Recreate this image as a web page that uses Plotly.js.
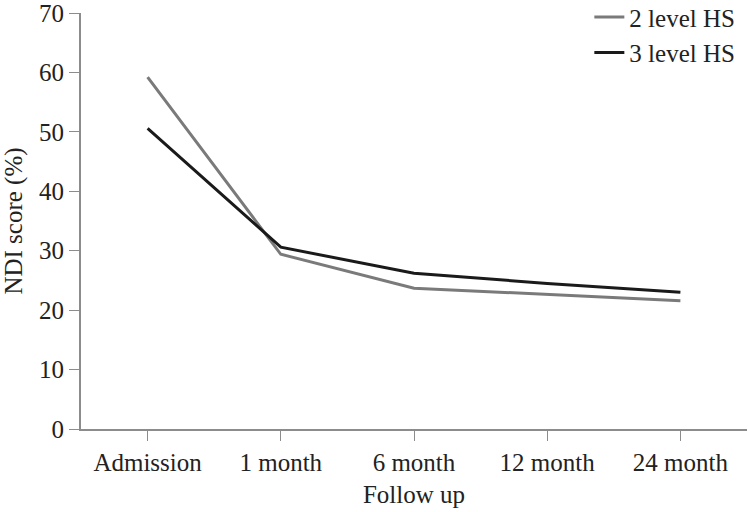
<!DOCTYPE html>
<html>
<head>
<meta charset="utf-8">
<script src="https://cdn.plot.ly/plotly-3.0.1.min.js"></script>
<style>
  html, body { margin: 0; padding: 0; background: #fff; }
  #chart { width: 748px; height: 512px; }
</style>
</head>
<body>
<div id="chart"></div>
<script>
// Follow-up time points
const followUp = ['Admission', '1 month', '6 month', '12 month', '24 month'];

// NDI score (%) per group
const level2HS = [59.2, 29.4, 23.7, 22.7, 21.6];
const level3HS = [50.6, 30.6, 26.2, 24.5, 23.0];

const yTicks = [0, 10, 20, 30, 40, 50, 60, 70];

const serif = "'Liberation Serif', 'DejaVu Serif', serif";
const axisGray = '#8c8c8c';
const textColor = '#222';
const fontSize = 25;

const traces = [
    {
        x: followUp,
        y: level2HS,
        name: '2 level HS',
        type: 'scatter',
        mode: 'lines',
        line: { color: '#7a7a7a', width: 3 },
    },
    {
        x: followUp,
        y: level3HS,
        name: '3 level HS',
        type: 'scatter',
        mode: 'lines',
        line: { color: '#1a1a1a', width: 3 },
    },
];

const layout = {
    width: 748,
    height: 512,
    paper_bgcolor: '#fff',
    plot_bgcolor: '#fff',
    margin: { l: 81, r: 1, t: 13, b: 83, autoexpand: false },
    font: { family: serif, size: fontSize, color: textColor },
    showlegend: true,
    legend: {
        x: 0.99,
        y: 1.045,
        xanchor: 'right',
        yanchor: 'top',
        bgcolor: 'rgba(0,0,0,0)',
        font: { family: serif, size: fontSize, color: textColor },
        itemwidth: 30,
        tracegroupgap: 0,
    },
    xaxis: {
        type: 'category',
        range: [-0.5, 4.5],
        automargin: false,
        showgrid: false,
        zeroline: false,
        showline: true,
        linecolor: axisGray,
        linewidth: 2,
        ticks: 'outside',
        ticklen: 10,
        tickwidth: 1,
        tickcolor: axisGray,
        tickfont: { family: serif, size: fontSize, color: textColor },
        title: { text: 'Follow up', font: { family: serif, size: fontSize, color: textColor }, standoff: 10 },
    },
    yaxis: {
        range: [0, 70],
        tickvals: yTicks,
        automargin: false,
        ticklabeloverflow: 'allow',
        showgrid: false,
        zeroline: false,
        showline: true,
        linecolor: axisGray,
        linewidth: 2,
        ticks: 'outside',
        ticklen: 10,
        tickwidth: 1,
        tickcolor: axisGray,
        tickfont: { family: serif, size: fontSize, color: textColor },
        title: { text: 'NDI score (%)', font: { family: serif, size: fontSize, color: textColor }, standoff: 10 },
    },
};

Plotly.newPlot('chart', traces, layout, { displayModeBar: false, responsive: false });
</script>
</body>
</html>
